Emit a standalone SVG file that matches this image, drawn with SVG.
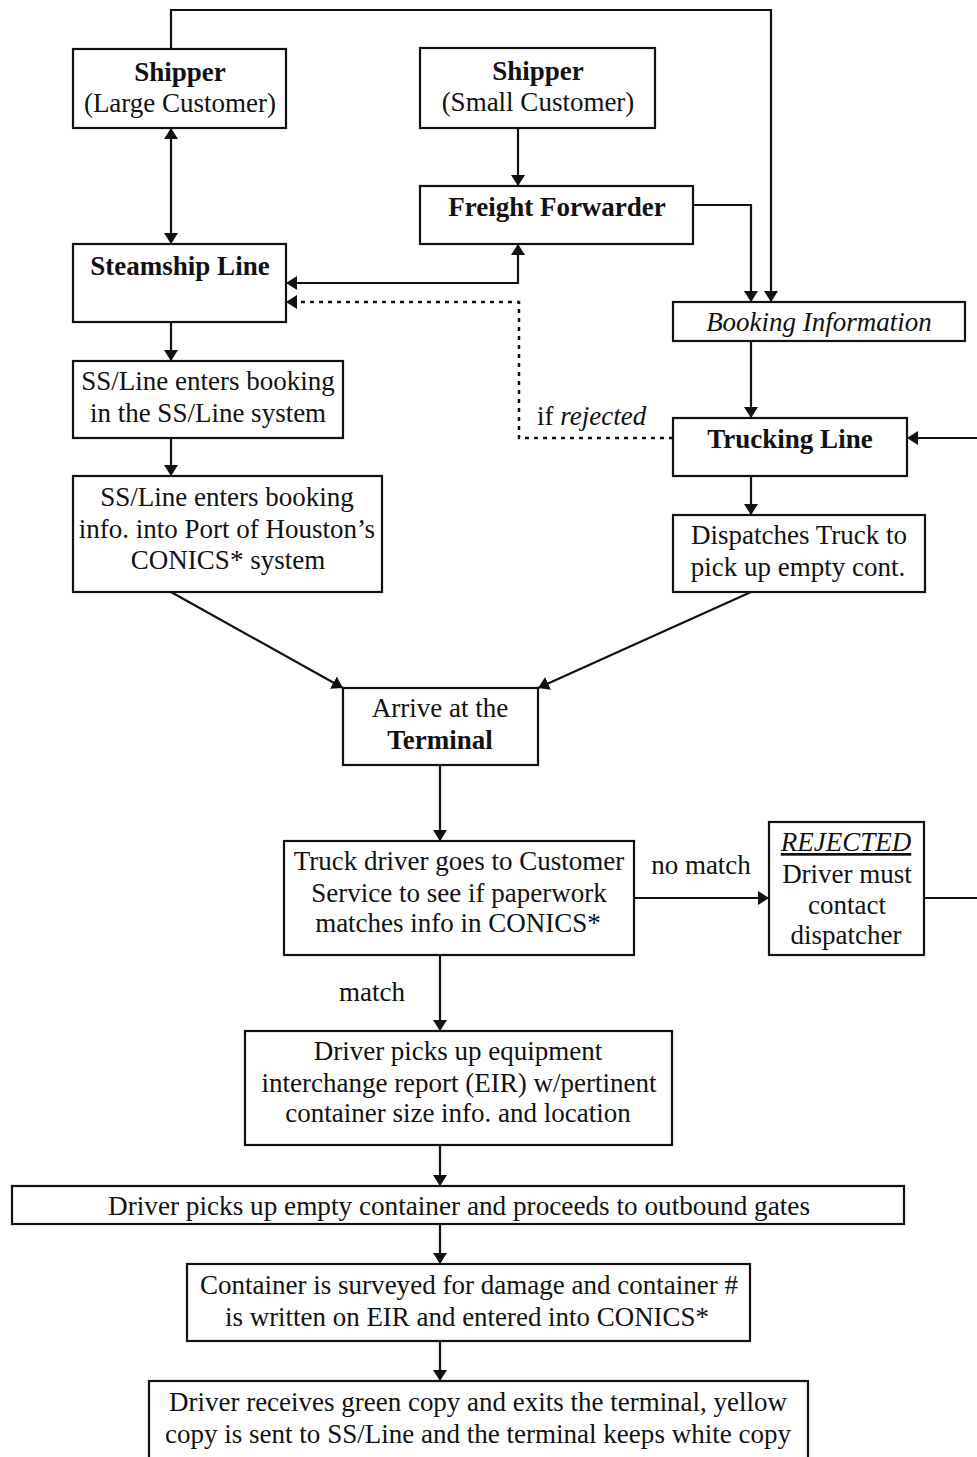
<svg xmlns="http://www.w3.org/2000/svg" width="977" height="1457" viewBox="0 0 977 1457">
  <style>
    .box { fill: #fff; stroke: #111; stroke-width: 2.2; }
    .ln { fill: none; stroke: #111; stroke-width: 2.2; }
    .dot { fill: none; stroke: #111; stroke-width: 2.5; stroke-dasharray: 4 5; }
    text { font-family: "Liberation Serif", "Times New Roman", serif; font-size: 27px; fill: #111; text-anchor: middle; }
    .b { font-weight: bold; }
    .i { font-style: italic; }
    .u { text-decoration: underline; }
  </style>
  <defs>
    <marker id="arrow" markerUnits="userSpaceOnUse" markerWidth="12" markerHeight="14" refX="11" refY="7" orient="auto-start-reverse">
      <path d="M0,0 L11,7 L0,14 z" fill="#111"/>
    </marker>
  </defs>

  <rect width="977" height="1457" fill="#fff"/>

  <!-- connectors -->
  <g id="connectors">
    <path class="ln" d="M171,49 V10 H771 V302" marker-end="url(#arrow)"/>
    <path class="ln" d="M171,128 V244" marker-start="url(#arrow)" marker-end="url(#arrow)"/>
    <path class="ln" d="M518,128 V186" marker-end="url(#arrow)"/>
    <path class="ln" d="M286,283 H518 V244" marker-start="url(#arrow)" marker-end="url(#arrow)"/>
    <path class="ln" d="M693,205 H751 V302" marker-end="url(#arrow)"/>
    <path class="dot" d="M673,438 H519 V302 H286" marker-end="url(#arrow)"/>
    <path class="ln" d="M171,322 V361" marker-end="url(#arrow)"/>
    <path class="ln" d="M171,438 V476" marker-end="url(#arrow)"/>
    <path class="ln" d="M751,341 V418" marker-end="url(#arrow)"/>
    <path class="ln" d="M751,476 V515" marker-end="url(#arrow)"/>
    <path class="ln" d="M977,438 H907" marker-end="url(#arrow)"/>
    <path class="ln" d="M171,592 L343,688" marker-end="url(#arrow)"/>
    <path class="ln" d="M751,592 L538,688" marker-end="url(#arrow)"/>
    <path class="ln" d="M440,765 V841" marker-end="url(#arrow)"/>
    <path class="ln" d="M634,898 H769" marker-end="url(#arrow)"/>
    <path class="ln" d="M924,898 H977"/>
    <path class="ln" d="M440,955 V1031" marker-end="url(#arrow)"/>
    <path class="ln" d="M440,1145 V1186" marker-end="url(#arrow)"/>
    <path class="ln" d="M440,1224 V1264" marker-end="url(#arrow)"/>
    <path class="ln" d="M440,1341 V1381" marker-end="url(#arrow)"/>
    <text x="537" y="425" style="text-anchor:start">if <tspan class="i">rejected</tspan></text>
    <text x="701" y="874">no match</text>
    <text x="372" y="1001">match</text>
  </g>

  <g id="shipper-large">
    <rect class="box" x="73" y="49" width="213" height="79"/>
    <text class="b" x="180" y="81">Shipper</text>
    <text x="180" y="112">(Large Customer)</text>
  </g>

  <g id="shipper-small">
    <rect class="box" x="420" y="48" width="235" height="80"/>
    <text class="b" x="538" y="80">Shipper</text>
    <text x="538" y="111">(Small Customer)</text>
  </g>

  <g id="freight-forwarder">
    <rect class="box" x="420" y="186" width="273" height="58"/>
    <text class="b" x="557" y="216">Freight Forwarder</text>
  </g>

  <g id="steamship-line">
    <rect class="box" x="73" y="244" width="213" height="78"/>
    <text class="b" x="180" y="275">Steamship Line</text>
  </g>

  <g id="booking-information">
    <rect class="box" x="673" y="302" width="292" height="39"/>
    <text class="i" x="819" y="331">Booking Information</text>
  </g>

  <g id="ssline-booking">
    <rect class="box" x="73" y="361" width="270" height="77"/>
    <text x="208" y="390">SS/Line enters booking</text>
    <text x="208" y="422">in the SS/Line system</text>
  </g>

  <g id="trucking-line">
    <rect class="box" x="673" y="418" width="234" height="58"/>
    <text class="b" x="790" y="448">Trucking Line</text>
  </g>

  <g id="ssline-conics">
    <rect class="box" x="73" y="476" width="309" height="116"/>
    <text x="227" y="506">SS/Line enters booking</text>
    <text x="227" y="538">info. into Port of Houston’s</text>
    <text x="228" y="569">CONICS* system</text>
  </g>

  <g id="dispatches-truck">
    <rect class="box" x="673" y="515" width="252" height="77"/>
    <text x="799" y="544">Dispatches Truck to</text>
    <text x="798" y="576">pick up empty cont.</text>
  </g>

  <g id="arrive-terminal">
    <rect class="box" x="343" y="688" width="195" height="77"/>
    <text x="440" y="717">Arrive at the</text>
    <text class="b" x="440" y="749">Terminal</text>
  </g>

  <g id="customer-service">
    <rect class="box" x="284" y="841" width="350" height="114"/>
    <text x="459" y="870">Truck driver goes to Customer</text>
    <text x="459" y="902">Service to see if paperwork</text>
    <text x="458" y="932">matches info in CONICS*</text>
  </g>

  <g id="rejected">
    <rect class="box" x="769" y="822" width="155" height="133"/>
    <text class="i u" x="846" y="851">REJECTED</text>
    <text x="847" y="883">Driver must</text>
    <text x="847" y="914">contact</text>
    <text x="846" y="944">dispatcher</text>
  </g>

  <g id="eir-pickup">
    <rect class="box" x="245" y="1031" width="427" height="114"/>
    <text x="458" y="1060">Driver picks up equipment</text>
    <text x="459" y="1092">interchange report (EIR) w/pertinent</text>
    <text x="458" y="1122">container  size info. and location</text>
  </g>

  <g id="empty-container">
    <rect class="box" x="12" y="1186" width="892" height="38"/>
    <text x="459" y="1215" textLength="702" lengthAdjust="spacingAndGlyphs">Driver picks up empty container and proceeds  to outbound gates</text>
  </g>

  <g id="survey">
    <rect class="box" x="187" y="1264" width="563" height="77"/>
    <text x="469" y="1294" textLength="538" lengthAdjust="spacingAndGlyphs">Container is surveyed for damage and container #</text>
    <text x="467" y="1326" textLength="484" lengthAdjust="spacingAndGlyphs">is written on EIR and entered into CONICS*</text>
  </g>

  <g id="exit-terminal">
    <rect class="box" x="149" y="1381" width="659" height="90"/>
    <text x="478" y="1411" textLength="618" lengthAdjust="spacingAndGlyphs">Driver receives green copy and exits the terminal, yellow</text>
    <text x="478" y="1443" textLength="626" lengthAdjust="spacingAndGlyphs">copy is sent to SS/Line and the terminal keeps white copy</text>
  </g>
</svg>
